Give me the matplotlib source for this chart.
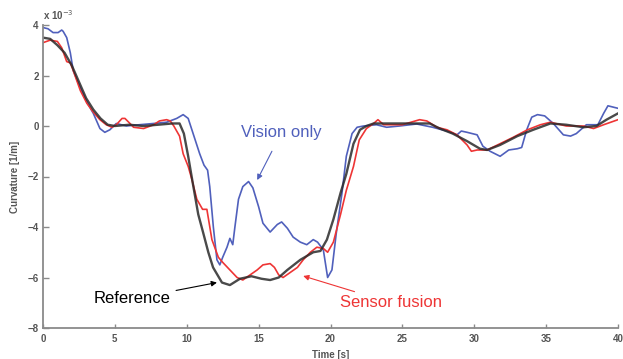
import matplotlib
matplotlib.use("Agg")
import matplotlib.pyplot as plt

plt.rcParams['font.family'] = ['Liberation Sans', 'DejaVu Sans']

# ---- data (curvature in 1e-3 1/m) ----
t_ref = [0, 0.5, 1, 1.5, 2, 2.5, 3, 3.5, 4, 4.5,
         5, 6, 7, 8, 9, 9.5, 9.8, 10.1, 10.43, 10.8,
         11.13, 11.5, 11.83, 12.45, 13.0, 13.7, 14.5, 15.2, 15.8, 16.4,
         17.0, 17.9, 18.8, 19.3, 19.75, 20.2, 20.7, 21.1, 21.6, 22.05,
         22.5, 23, 25, 26.9, 27.6, 28.5, 29.5, 30.4, 30.9, 31.8,
         33, 34.1, 35.3, 36.4, 37.6, 38.5, 39.2, 40]
v_ref = [3.5, 3.45, 3.2, 2.9, 2.4, 1.75, 1.1, 0.65, 0.3, 0.05,
         0.0, 0.05, 0.0, 0.05, 0.1, 0.1, -0.3, -1.2, -2.3, -3.5,
         -4.2, -5.0, -5.6, -6.2, -6.3, -6.05, -5.95, -6.05, -6.1, -6.0,
         -5.7, -5.3, -5.0, -4.95, -4.5, -3.7, -2.65, -1.9, -0.7, -0.15,
         0.0, 0.1, 0.1, 0.1, -0.1, -0.3, -0.6, -0.9, -0.95, -0.75,
         -0.4, -0.15, 0.1, 0.05, -0.05, 0.0, 0.25, 0.5]

t_fus = [0, 0.5, 1, 1.3, 1.65, 1.9, 2.1, 2.6, 3.05, 3.5,
         3.96, 4.4, 4.8, 5.1, 5.5, 5.7, 6.05, 6.3, 7, 7.7,
         8.1, 8.6, 8.85, 9.1, 9.5, 9.75, 10.1, 10.35, 10.7, 11.1,
         11.4, 11.75, 12.2, 12.5, 13, 13.5, 13.9, 14.4, 14.9, 15.3,
         15.8, 16.1, 16.4, 16.7, 17.2, 17.7, 18.1, 18.6, 19.05, 19.5,
         19.8, 20.2, 20.7, 21.1, 21.6, 22, 22.5, 23, 23.3, 23.7,
         25, 26.2, 26.7, 27.4, 28.1, 28.8, 29.5, 29.8, 30.2, 30.9,
         31.8, 32.7, 33.7, 34.6, 35.3, 36.4, 37.6, 38.3, 39, 40]
v_fus = [3.3, 3.4, 3.35, 3.1, 2.55, 2.5, 2.2, 1.4, 0.9, 0.55,
         0.25, 0.05, -0.05, 0.05, 0.3, 0.3, 0.1, -0.05, -0.1, 0.05,
         0.2, 0.25, 0.2, 0.0, -0.4, -1.1, -1.6, -2.1, -2.9, -3.3,
         -3.3, -4.5, -5.2, -5.4, -5.7, -6.0, -6.1, -5.9, -5.7, -5.5,
         -5.45, -5.6, -5.9, -6.0, -5.8, -5.6, -5.3, -5.0, -4.8, -4.85,
         -5.0, -4.6, -3.5, -2.55, -1.6, -0.55, -0.1, 0.1, 0.25, 0.05,
         0.05, 0.25, 0.2, -0.05, -0.15, -0.35, -0.75, -1.0, -0.95, -0.95,
         -0.7, -0.45, -0.15, 0.05, 0.15, 0.0, 0.0, -0.1, 0.05, 0.25]

t_vis = [0, 0.35, 0.7, 1.05, 1.3, 1.4, 1.65, 1.9, 2.1, 2.6,
         3.05, 3.5, 3.96, 4.3, 4.65, 5.1, 5.8, 6.7, 7.7, 8.6,
         9.3, 9.75, 10.1, 10.5, 10.9, 11.2, 11.45, 11.6, 11.85, 12.1,
         12.3, 12.5, 12.8, 13.0, 13.2, 13.35, 13.6, 13.9, 14.3, 14.6,
         15.0, 15.3, 15.8, 16.3, 16.6, 17.0, 17.4, 17.9, 18.35, 18.8,
         19.1, 19.5, 19.8, 20.1, 20.4, 20.8, 21.1, 21.5, 21.85, 22.3,
         23.2, 23.9, 24.8, 26, 27.1, 28.1, 28.8, 29.1, 29.5, 30.2,
         30.6, 31.1, 31.8, 32.4, 33, 33.3, 33.65, 34, 34.4, 34.9,
         35.5, 36.2, 36.7, 37.1, 37.8, 38.3, 38.6, 39, 39.3, 39.65, 40]
v_vis = [3.9, 3.85, 3.7, 3.7, 3.8, 3.75, 3.5, 2.9, 2.2, 1.5,
         0.95, 0.5, -0.1, -0.25, -0.15, 0.1, 0.0, 0.05, 0.1, 0.15,
         0.3, 0.45, 0.3, -0.4, -1.1, -1.55, -1.75, -2.4, -4.0, -5.3,
         -5.5, -5.2, -4.8, -4.45, -4.7, -4.0, -2.9, -2.4, -2.2, -2.45,
         -3.2, -3.85, -4.2, -3.9, -3.8, -4.05, -4.4, -4.6, -4.7, -4.5,
         -4.6, -4.9, -6.0, -5.7, -4.25, -2.65, -1.2, -0.3, -0.05, 0.0,
         0.05, -0.05, 0.0, 0.08, -0.05, -0.2, -0.35, -0.2, -0.25, -0.35,
         -0.8, -1.0, -1.2, -0.95, -0.9, -0.85, -0.15, 0.35, 0.45, 0.4,
         0.1, -0.35, -0.4, -0.3, 0.05, 0.05, 0.05, 0.5, 0.8, 0.75, 0.7]

x_ticks = [0, 5, 10, 15, 20, 25, 30, 35, 40]
y_ticks = [-8, -6, -4, -2, 0, 2, 4]

BLUE = '#5060BC'
RED = '#EE3535'
BLACK = '#2a2a2a'
AXC = '#8a8a8a'
TXT = '#555555'

fig = plt.figure(figsize=(6.23, 3.59), dpi=100)
ax = fig.add_axes([43/623, 1-328/359, (618-43)/623, (328-25)/359])

ax.plot(t_vis, v_vis, color=BLUE, lw=1.2, solid_joinstyle='round')
ax.plot(t_fus, v_fus, color=RED, lw=1.2, solid_joinstyle='round')
ax.plot(t_ref, v_ref, color=BLACK, lw=1.7, alpha=0.85, solid_joinstyle='round')

ax.set_xlim(0, 40)
ax.set_ylim(-8, 4)
ax.set_xticks(x_ticks)
ax.set_yticks(y_ticks)
ax.set_yticklabels([str(v).replace('-', '\u2212') for v in y_ticks])

for s in ['top', 'right']:
    ax.spines[s].set_visible(False)
for s in ['left', 'bottom']:
    ax.spines[s].set_color(AXC)
    ax.spines[s].set_linewidth(1.3)
ax.tick_params(direction='in', length=4, width=1, color=AXC,
               labelsize=7, labelcolor=TXT)
ax.tick_params(axis='x', pad=4, length=3)
ax.tick_params(axis='y', pad=3)
for lab in ax.get_xticklabels() + ax.get_yticklabels():
    lab.set_fontweight('bold')

ax.set_xlabel('Time [s]', fontsize=7, color=TXT, fontweight='bold')
ax.xaxis.set_label_coords(0.5, -0.072)
ax.set_ylabel('Curvature [1/m]', fontsize=7, color=TXT, fontweight='bold')
ax.yaxis.set_label_coords(-0.040, 0.5)
fig.text(43/623, 1-15/359, r'x 10$^{-3}$', fontsize=7, color=TXT,
         fontweight='bold', ha='left', va='center')

ax.annotate('Vision only', xy=(14.9, -2.14), xytext=(16.6, -0.25),
            fontsize=12, color=BLUE, ha='center', va='center',
            arrowprops=dict(arrowstyle='-|>', color=BLUE, lw=0.8,
                            mutation_scale=8, shrinkA=7, shrinkB=0))
ax.annotate('Reference', xy=(12.1, -6.2), xytext=(6.2, -6.85),
            fontsize=12, color='black', ha='center', va='center',
            arrowprops=dict(arrowstyle='-|>', color='black', lw=0.8,
                            mutation_scale=8, shrinkA=2, shrinkB=0))
ax.annotate('Sensor fusion', xy=(18.1, -5.94), xytext=(24.2, -7.0),
            fontsize=12, color=RED, ha='center', va='center',
            arrowprops=dict(arrowstyle='-|>', color=RED, lw=0.8,
                            mutation_scale=8, shrinkA=2, shrinkB=0))

fig.savefig('out.png', dpi=100)
